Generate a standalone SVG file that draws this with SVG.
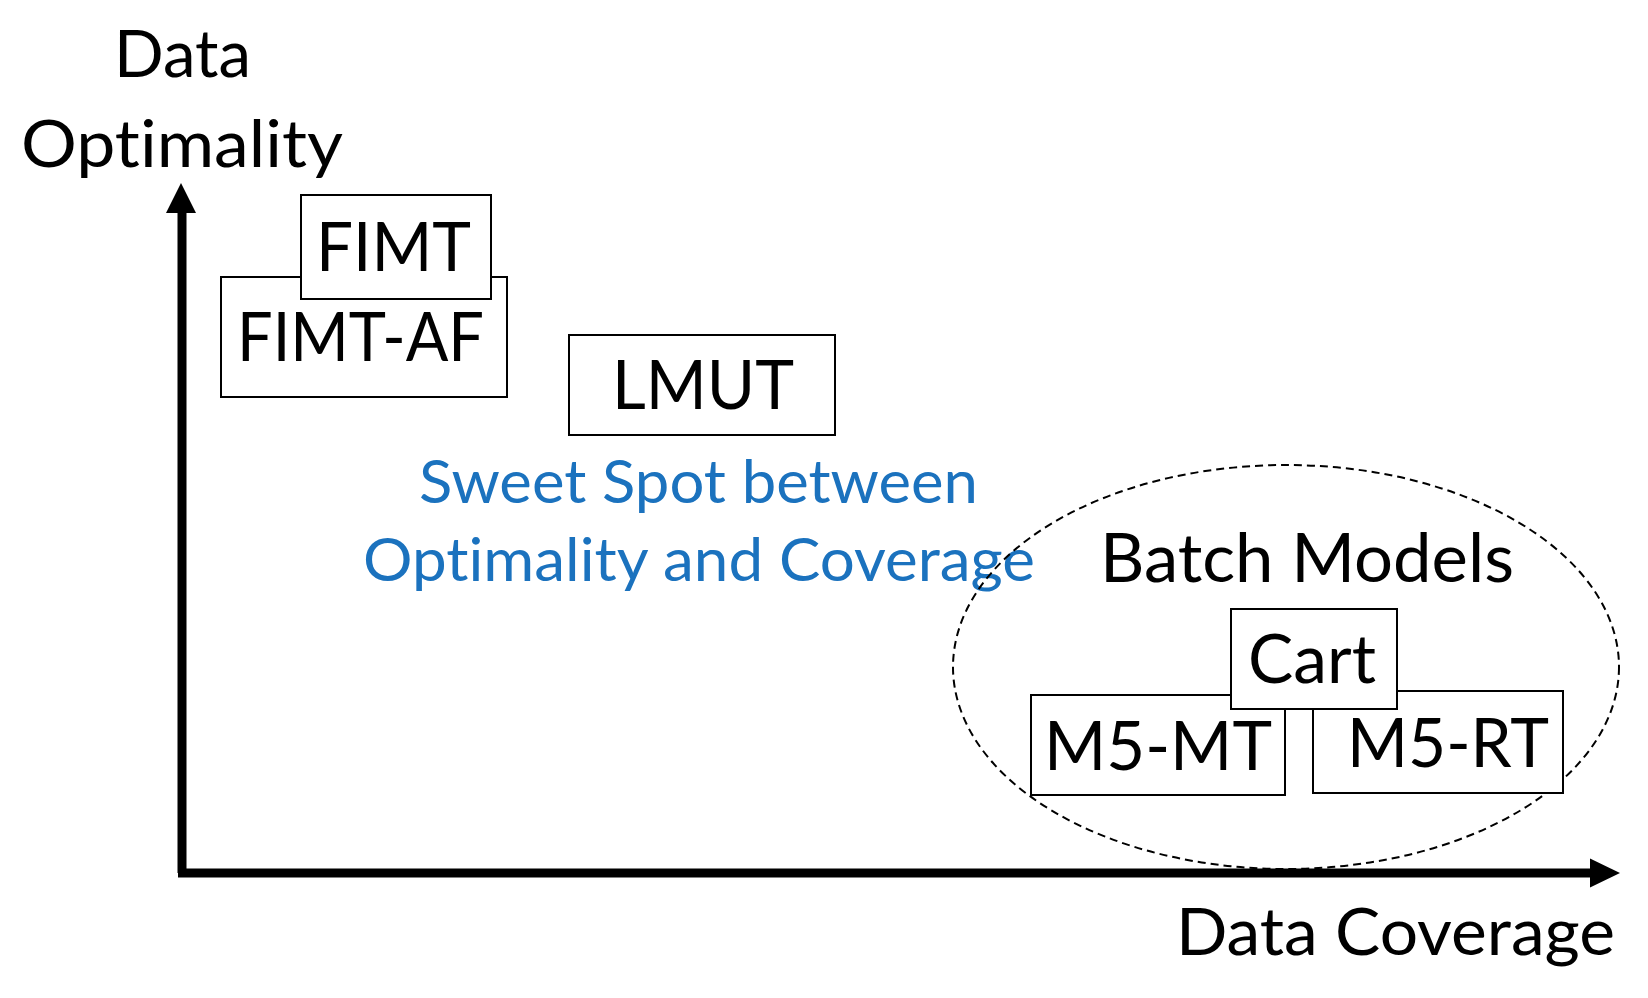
<svg xmlns="http://www.w3.org/2000/svg" width="1648" height="998" viewBox="0 0 1648 998">
<style>
  text { font-family: Lato, "Liberation Sans", sans-serif; fill: #000; font-variant-ligatures: none; font-feature-settings: "liga" 0, "clig" 0; }
  .axis-label { font-size: 66px; }
  .lbl { font-size: 67px; }
  .blue { font-size: 60px; fill: #1B72BE; }
  .box { fill: #fff; stroke: #000; stroke-width: 2; }
  .axis { stroke: #000; stroke-width: 9; fill: none; }
  .head { fill: #000; }
  .group-ellipse { fill: none; stroke: #000; stroke-width: 2; stroke-dasharray: 8 5; }
</style>
<rect width="1648" height="998" fill="#fff"/>

<g id="axis-labels">
  <text class="axis-label" x="114" y="77" textLength="137" lengthAdjust="spacingAndGlyphs">Data</text>
  <text class="axis-label" x="21" y="167" textLength="322" lengthAdjust="spacingAndGlyphs">Optimality</text>
  <text class="axis-label" x="1176" y="955" textLength="439" lengthAdjust="spacingAndGlyphs">Data Coverage</text>
</g>

<g id="sweet-spot">
  <text class="blue" x="419" y="503" textLength="559" lengthAdjust="spacingAndGlyphs">Sweet Spot between</text>
  <text class="blue" x="363" y="581" textLength="672" lengthAdjust="spacingAndGlyphs">Optimality and Coverage</text>
</g>

<g id="batch-models">
  <ellipse class="group-ellipse" cx="1286" cy="667" rx="333" ry="202"/>
  <text class="lbl" x="1100" y="582" textLength="414" lengthAdjust="spacingAndGlyphs">Batch Models</text>
</g>

<g id="connectors">
  <line class="axis" x1="182" y1="205" x2="182" y2="873"/>
  <polygon class="head" points="181,183 166,213 196,213"/>
  <line class="axis" x1="178" y1="873" x2="1595" y2="873"/>
  <polygon class="head" points="1620,873 1590,858.5 1590,887.5"/>
</g>

<g id="node-fimt-af">
  <rect class="box" x="221" y="277" width="286" height="120"/>
  <text class="lbl" x="237" y="361" textLength="247" lengthAdjust="spacingAndGlyphs">FIMT-AF</text>
</g>

<g id="node-fimt">
  <rect class="box" x="301" y="195" width="190" height="104"/>
  <text class="lbl" x="316" y="271" textLength="155" lengthAdjust="spacingAndGlyphs">FIMT</text>
</g>

<g id="node-lmut">
  <rect class="box" x="569" y="335" width="266" height="100"/>
  <text class="lbl" x="612" y="409" textLength="182" lengthAdjust="spacingAndGlyphs">LMUT</text>
</g>

<g id="node-m5-mt">
  <rect class="box" x="1031" y="695" width="254" height="100"/>
  <text class="lbl" x="1044" y="770" textLength="228" lengthAdjust="spacingAndGlyphs">M5-MT</text>
</g>

<g id="node-m5-rt">
  <rect class="box" x="1313" y="691" width="250" height="102"/>
  <text class="lbl" x="1347" y="767" textLength="202" lengthAdjust="spacingAndGlyphs">M5-RT</text>
</g>

<g id="node-cart">
  <rect class="box" x="1231" y="609" width="166" height="100"/>
  <text class="lbl" x="1248" y="683" textLength="128" lengthAdjust="spacingAndGlyphs">Cart</text>
</g>
</svg>
